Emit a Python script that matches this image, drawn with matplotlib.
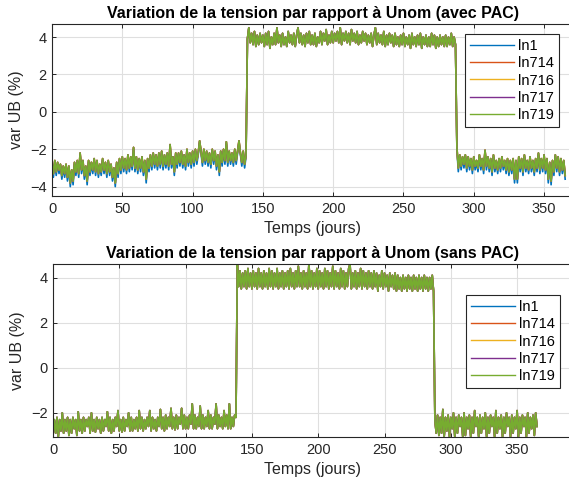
import matplotlib
matplotlib.use("Agg")
import matplotlib.pyplot as plt

plt.rcParams['font.family'] = ['Liberation Sans', 'DejaVu Sans']

series_names = ["ln1", "ln714", "ln716", "ln717", "ln719"]
days = list(range(366))

# ---- avec PAC (top), values read per day from the picture ----
avec_winter1_ln1 = [
    -2.8, -3.5, -2.7, -3.4, -2.8, -3.3, -2.9, -3.6, -3.0, -3.5,
    -2.9, -3.7, -3.0, -4.0, -3.2, -3.9, -2.8, -3.4, -2.7, -3.5,
    -2.3, -3.3, -2.7, -3.6, -3.0, -3.9, -2.7, -3.4, -2.8, -3.3,
    -2.6, -3.4, -2.7, -3.5, -2.9, -3.4, -2.6, -3.3, -2.8, -3.5,
    -2.7, -3.4, -2.9, -3.7, -3.1, -4.0, -2.8, -3.5, -2.6, -3.3,
    -2.5, -3.2, -2.6, -3.3, -2.4, -3.2, -2.5, -3.1, -2.0, -3.2,
    -2.5, -3.3, -2.6, -3.2, -2.5, -3.4, -2.7, -3.8, -2.6, -3.2,
    -2.4, -3.1, -2.3, -3.0, -2.4, -3.1, -2.3, -3.0, -2.2, -3.1,
    -2.4, -3.0, -2.3, -3.1, -1.85, -3.0, -2.5, -3.4, -2.3, -3.0,
    -2.3, -2.9, -2.2, -3.0, -2.4, -3.1, -2.1, -2.9, -2.3, -3.0,
    -2.2, -2.9, -2.1, -2.8, -2.3, -1.65, -2.2, -2.9, -2.1, -2.8,
    -2.2, -2.9, -2.3, -3.0, -2.1, -2.8, -2.2, -3.1, -2.4, -3.4,
    -2.2, -2.9, -2.1, -2.8, -1.7, -2.9, -2.2, -2.8, -2.3, -2.9,
    -2.1, -2.8, -2.2, -1.65, -2.3, -2.9, -2.2, -3.0, -2.4]
avec_winter1_other = [
    -2.7, -3.3, -2.6, -3.2, -2.7, -3.1, -2.8, -3.4, -2.9, -3.3,
    -2.8, -3.5, -2.9, -3.8, -3.1, -3.7, -2.7, -3.2, -2.6, -3.3,
    -2.2, -3.1, -2.6, -3.4, -2.9, -3.7, -2.6, -3.2, -2.7, -3.1,
    -2.5, -3.2, -2.6, -3.3, -2.8, -3.2, -2.5, -3.1, -2.7, -3.3,
    -2.6, -3.2, -2.8, -3.5, -3.0, -3.8, -2.7, -3.3, -2.5, -3.1,
    -2.4, -3.0, -2.5, -3.1, -2.3, -3.0, -2.4, -2.9, -1.9, -3.0,
    -2.4, -3.1, -2.5, -3.0, -2.4, -3.2, -2.6, -3.6, -2.5, -3.0,
    -2.3, -2.9, -2.2, -2.8, -2.3, -2.9, -2.2, -2.8, -2.1, -2.9,
    -2.3, -2.8, -2.2, -2.9, -1.75, -2.8, -2.4, -3.2, -2.2, -2.8,
    -2.2, -2.7, -2.1, -2.8, -2.3, -2.9, -2.0, -2.7, -2.2, -2.8,
    -2.1, -2.7, -2.0, -2.6, -2.2, -1.55, -2.1, -2.7, -2.0, -2.6,
    -2.1, -2.7, -2.2, -2.8, -2.0, -2.6, -2.1, -2.9, -2.3, -3.2,
    -2.1, -2.7, -2.0, -2.6, -1.6, -2.7, -2.1, -2.6, -2.2, -2.7,
    -2.0, -2.6, -2.1, -1.55, -2.2, -2.7, -2.1, -2.8, -2.3]
avec_summer = [
    3.9, 4.5, 3.7, 4.2, 3.6, 4.3, 3.5, 4.1, 3.6, 4.2, 3.7,
    4.1, 3.5, 4.2, 3.6, 4.3, 3.4, 4.0, 3.6, 4.2, 3.6,
    4.5, 3.7, 4.1, 3.5, 4.2, 3.6, 4.0, 3.5, 4.3, 3.7,
    4.1, 3.6, 4.2, 3.5, 4.1, 4.5, 3.7, 4.2, 3.6, 4.1,
    3.5, 4.2, 3.7, 4.3, 3.6, 4.1, 3.6, 4.2, 3.5, 4.0,
    3.7, 4.3, 3.6, 4.2, 3.8, 4.4, 3.6, 4.1, 3.7, 4.3,
    3.7, 4.2, 3.8, 4.3, 3.7, 4.5, 3.6, 4.2, 3.8, 4.3,
    3.7, 4.2, 3.6, 4.4, 3.8, 4.2, 3.7, 4.3, 3.6, 4.1,
    3.7, 4.3, 3.8, 4.2, 3.6, 4.1, 3.7, 4.2, 3.5, 4.1,
    4.5, 3.6, 4.2, 3.7, 4.1, 3.6, 4.3, 3.5, 4.1, 3.6,
    4.2, 3.7, 4.1, 3.5, 4.2, 3.6, 4.0, 3.5, 4.1, 3.6,
    4.2, 3.5, 4.0, 3.6, 4.1, 3.4, 4.2, 3.6, 4.0, 3.5,
    4.1, 3.6, 4.2, 3.4, 4.0, 3.6, 4.1, 3.5, 4.0, 3.5,
    4.2, 3.6, 4.1, 3.4, 4.0, 3.5, 4.1, 3.6, 4.0, 3.5,
    4.1, 3.5, 4.0, 3.6, 4.2, 3.5, 4.0, 3.6]
avec_winter2_ln1 = [
    -2.0, -3.2,
    -2.4, -3.1, -2.5, -3.0, -2.4, -3.2, -2.5, -3.1, -2.6, -3.3,
    -2.5, -3.1, -2.7, -3.2, -2.4, -3.1, -2.6, -3.3, -2.15, -3.1,
    -2.5, -3.2, -2.6, -3.4, -2.4, -3.2, -2.7, -3.3, -2.6, -3.2,
    -2.5, -3.1, -2.7, -3.3, -2.6, -3.4, -2.7, -3.3, -2.6, -3.8,
    -2.7, -3.8, -2.5, -3.2, -2.6, -3.4, -2.4, -3.2, -2.7, -3.3,
    -2.5, -3.2, -2.7, -3.4, -2.6, -3.2, -2.3, -3.3, -2.6, -3.2,
    -2.4, -3.3, -2.6, -3.8, -2.8, -3.9, -2.7, -3.4, -2.4, -3.2,
    -2.5, -3.4, -2.6, -3.3, -2.7, -3.6]
avec_winter2_other = [
    -1.9, -3.0,
    -2.3, -2.9, -2.4, -2.8, -2.3, -3.0, -2.4, -2.9, -2.5, -3.1,
    -2.4, -2.9, -2.6, -3.0, -2.3, -2.9, -2.5, -3.1, -2.05, -2.9,
    -2.4, -3.0, -2.5, -3.2, -2.3, -3.0, -2.6, -3.1, -2.5, -3.0,
    -2.4, -2.9, -2.6, -3.1, -2.5, -3.2, -2.6, -3.1, -2.5, -3.6,
    -2.6, -3.6, -2.4, -3.0, -2.5, -3.2, -2.3, -3.0, -2.6, -3.1,
    -2.4, -3.0, -2.6, -3.2, -2.5, -3.0, -2.2, -3.1, -2.5, -3.0,
    -2.3, -3.1, -2.5, -3.6, -2.7, -3.7, -2.6, -3.2, -2.3, -3.0,
    -2.4, -3.2, -2.5, -3.1, -2.6, -3.4]

# ---- sans PAC (bottom), all five lines overlap ----
sans_winter1 = [
    -3.0, -2.3, -2.9, -2.2, -3.05, -2.3, -2.8, -2.0, -2.9, -2.3,
    -2.8, -2.2, -3.0, -2.3, -2.9, -2.2, -2.7, -2.3, -3.0, -1.95,
    -2.8, -2.3, -2.9, -2.2, -2.8, -2.3, -2.6, -2.2, -2.9, -2.0,
    -2.8, -2.3, -2.85, -2.2, -2.7, -2.3, -2.9, -2.2, -2.8, -2.3,
    -2.6, -1.95, -2.8, -2.2, -2.9, -2.3, -2.8, -2.2, -2.6, -1.9,
    -2.8, -2.3, -2.85, -2.2, -2.8, -2.3, -2.6, -2.0, -2.8, -2.2,
    -2.8, -2.3, -2.7, -2.2, -2.8, -1.9, -2.7, -2.2, -2.8, -2.3,
    -2.7, -2.2, -2.6, -1.9, -2.8, -2.2, -2.7, -2.3, -2.8, -2.2,
    -2.6, -1.85, -2.7, -2.2, -2.8, -2.1, -2.7, -2.2, -2.6, -1.8,
    -2.7, -2.2, -2.75, -2.1, -2.7, -2.2, -2.5, -1.8, -2.7, -2.1,
    -2.7, -2.2, -2.7, -2.1, -2.5, -1.6, -2.7, -2.1, -2.7, -2.2,
    -2.6, -1.7, -2.7, -2.1, -2.7, -2.2, -2.6, -1.9, -2.7, -2.1,
    -2.7, -2.2, -2.5, -1.6, -2.7, -2.1, -2.6, -2.2, -2.7, -1.9,
    -2.6, -2.1, -2.7, -1.6, -2.7, -2.2, -2.6, -2.1, -2.2]
sans_summer = [
    4.6, 3.6, 4.3, 3.5, 4.2, 3.6, 4.3, 3.5, 4.4, 3.6, 4.2,
    3.5, 4.3, 3.6, 4.2, 3.5, 4.4, 3.6, 4.2, 3.5, 4.3,
    3.6, 4.2, 3.5, 4.4, 3.6, 4.3, 3.5, 4.2, 3.6, 4.4,
    3.5, 4.2, 3.6, 4.3, 3.5, 4.2, 3.6, 4.3, 3.5, 4.4,
    3.6, 4.2, 3.5, 4.3, 3.6, 4.5, 3.6, 4.2, 3.5, 4.3,
    3.6, 4.2, 3.5, 4.6, 3.6, 4.3, 3.5, 4.2, 3.6, 4.4,
    3.5, 4.3, 3.6, 4.2, 3.5, 4.4, 3.6, 4.3, 3.5, 4.2,
    3.6, 4.5, 3.5, 4.3, 3.6, 4.2, 3.5, 4.4, 3.6, 4.3,
    3.5, 4.2, 3.6, 4.4, 4.6, 3.5, 4.2, 3.6, 4.3, 3.5,
    4.2, 3.6, 4.4, 3.5, 4.3, 3.6, 4.2, 3.5, 4.3, 3.6,
    4.2, 3.5, 4.3, 3.6, 4.2, 3.4, 4.1, 3.6, 4.3, 3.5,
    4.2, 3.6, 4.1, 3.4, 4.2, 3.6, 4.1, 3.5, 4.2, 3.4,
    4.1, 3.5, 4.0, 3.4, 4.1, 3.5, 4.0, 3.4, 4.1, 3.5,
    4.0, 3.4, 4.1, 3.5, 4.0, 3.4, 4.1, 3.5, 4.0, 3.4,
    4.1, 3.5, 4.0, 3.4, 4.0, 3.5, 4.1, 3.4]
sans_winter2 = [
    -2.3, -2.9,
    -2.1, -3.0, -2.2, -2.9, -1.85, -3.05, -2.2, -2.8, -2.1, -3.05,
    -2.2, -2.7, -2.0, -3.05, -2.2, -2.9, -2.1, -2.6, -2.2, -3.05,
    -2.0, -3.0, -2.2, -2.7, -2.1, -3.05, -2.2, -2.9, -1.9, -2.6,
    -2.2, -3.05, -2.1, -2.9, -2.2, -2.7, -2.0, -3.05, -2.2, -2.9,
    -2.1, -2.6, -2.2, -3.05, -1.9, -2.9, -2.2, -2.7, -2.1, -3.05,
    -2.2, -2.9, -2.0, -2.6, -2.2, -3.05, -2.1, -2.9, -2.2, -2.7,
    -1.9, -3.05, -2.2, -2.9, -2.1, -2.6, -2.2, -3.05, -2.0, -2.9,
    -2.2, -2.7, -2.1, -3.0, -2.0, -2.6]

avec_ln1 = avec_winter1_ln1 + avec_summer + avec_winter2_ln1
avec_other = avec_winter1_other + avec_summer + avec_winter2_other
sans_all = sans_winter1 + sans_summer + sans_winter2

avec_data = [avec_ln1, avec_other, avec_other, avec_other, avec_other]
sans_data = [sans_all] * 5

colors = ["#0072BD", "#D95319", "#EDB120", "#7E2F8E", "#77AC30"]
axis_col = "#262626"

fig = plt.figure(figsize=(5.69, 4.84), dpi=100)
ax1 = fig.add_axes([52 / 569, 288 / 484, 521.6 / 569, 172 / 484])
ax2 = fig.add_axes([53 / 569, 47 / 484, 519.8 / 569, 173 / 484])


def style(ax, title, xlim, ylim, leg_anchor):
    ax.set_xlim(*xlim)
    ax.set_xticks(range(0, 400, 50))
    ax.set_yticks([-4, -2, 0, 2, 4])
    ax.set_ylim(*ylim)
    ax.grid(True, color="#dfdfdf", linewidth=0.8)
    ax.set_axisbelow(True)
    ax.tick_params(direction="in", length=3, width=0.7, colors=axis_col,
                   labelsize=10.5, top=True, right=True, pad=4)
    for s in ax.spines.values():
        s.set_color(axis_col)
        s.set_linewidth(0.8)
    ax.set_title(title, fontsize=11.5, fontweight="bold", pad=4)
    ax.set_xlabel("Temps (jours)", fontsize=11.5, color=axis_col, labelpad=4)
    ax.set_ylabel("var UB (%)", fontsize=11.5, color=axis_col, labelpad=4)
    leg = ax.legend(loc="upper right", bbox_to_anchor=leg_anchor,
                    bbox_transform=fig.transFigure, fontsize=10.5,
                    fancybox=False, framealpha=1, edgecolor="#262626",
                    handlelength=3.0, handletextpad=0.3, labelspacing=0.22,
                    borderpad=0.35, borderaxespad=0)
    leg.get_frame().set_linewidth(0.8)
    for h in leg.get_lines():
        h.set_linewidth(1.0)


for vals, name, c in zip(avec_data, series_names, colors):
    ax1.plot(days, vals, color=c, linewidth=1.2, label=name)
for vals, name, c in zip(sans_data, series_names, colors):
    ax2.plot(days, vals, color=c, linewidth=1.2, label=name)

style(ax1, "Variation de la tension par rapport à Unom (avec PAC)",
      (0, 371), (-4.5, 4.7), (559 / 569, 1 - 34 / 484))
style(ax2, "Variation de la tension par rapport à Unom (sans PAC)",
      (0, 392), (-3.07, 4.6), (560 / 569, 1 - 295 / 484))

fig.savefig("out.png", dpi=100)
